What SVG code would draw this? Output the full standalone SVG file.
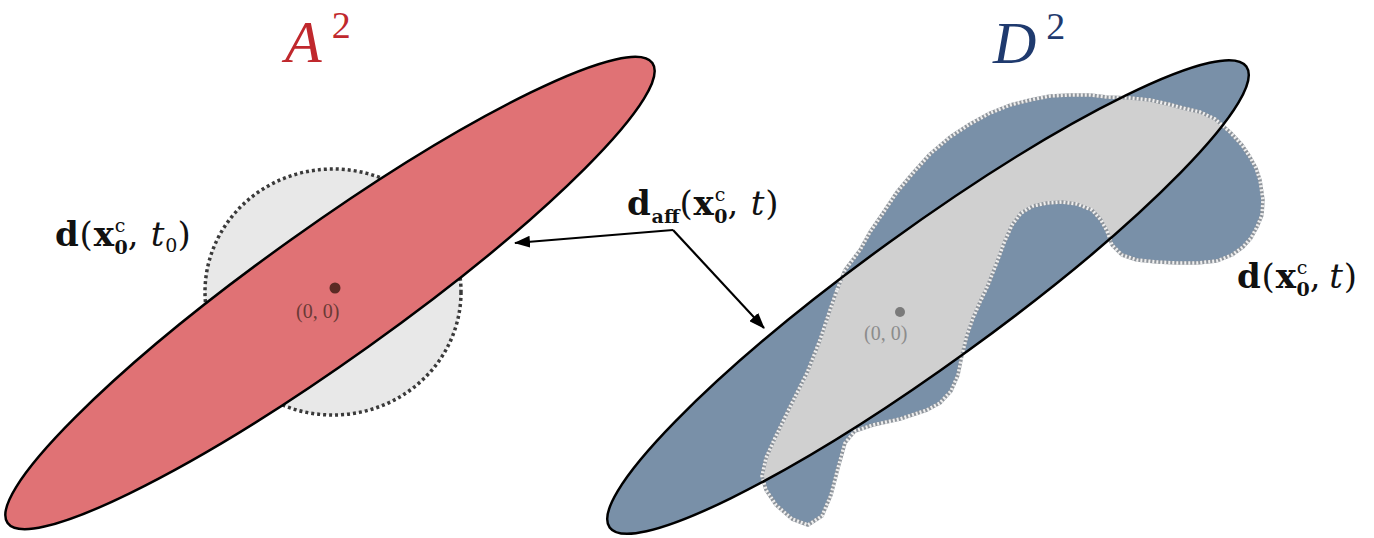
<svg xmlns="http://www.w3.org/2000/svg" width="1374" height="538" viewBox="0 0 1374 538">
<style>
.lbl{font-family:"DejaVu Serif","Liberation Serif",serif;font-size:34px;letter-spacing:0.8px;fill:#111}
.b{font-weight:bold}
.i{font-style:italic}
.s{font-size:19px;letter-spacing:0}
.ttl{font-family:"Liberation Serif","DejaVu Serif",serif;font-style:italic;font-size:60px}
.sup{font-style:normal;font-size:38px}
.orig{font-family:"Liberation Serif","DejaVu Serif",serif;font-size:20px}
.conn{fill:none;stroke:#000;stroke-width:2.2}
</style>
<defs>
<marker id="ah" viewBox="0 0 16 12" refX="15" refY="6" markerWidth="16" markerHeight="12" orient="auto" markerUnits="userSpaceOnUse">
<path d="M0,0 L16,6 L0,12 z" fill="#000"/>
</marker>
<ellipse id="ellR" cx="928" cy="297" rx="393" ry="67" transform="rotate(-35.9 928 297)"/>
<clipPath id="clipR"><use href="#ellR"/></clipPath>
<path id="blob" d="M837,290 L845,270 L860,250 L870,232 L883,213 L897,192 L913,173 L930,154 L950,137 L970,124 L990,113 L1010,105 L1030,100 L1050,96 L1070,95 L1090,95 L1107,97 L1130,98 L1150,100 L1168,104 L1183,108 L1200,112 L1215,119 L1230,132 L1242,145 L1250,157 L1256,168 L1260,180 L1263,200 L1262,215 L1257,227 L1251,238 L1243,247 L1232,255 L1217,261 L1197,263 L1177,263 L1157,262 L1137,260 L1122,255 L1112,245 L1107,231 L1101,220 L1092,210 L1077,204 L1062,202 L1047,203 L1033,206 L1021,213 L1012,225 L1004,243 L997,262 L988,285 L980,302 L973,318 L967,335 L962,355 L958,375 L951,391 L940,403 L927,410 L900,419 L873,425 L855,431 L845,443 L838,468 L831,495 L822,516 L808,525 L792,519 L776,505 L766,490 L762,476 L766,458 L775,438 L790,407 L807,373 L820,340 L830,310 Z"/>
</defs>
<g id="nodeA">
<ellipse cx="333" cy="292" rx="128" ry="123" fill="#e8e8e8" stroke="#3a3a3a" stroke-width="3.5" stroke-dasharray="3 3"/>
<ellipse cx="330" cy="293" rx="396" ry="66" transform="rotate(-35.5 330 293)" fill="#e07275" stroke="#000" stroke-width="2.5"/>
<circle cx="335" cy="288" r="5.5" fill="#5a2a24"/>
<text class="orig" x="296" y="318" fill="#6b3a36">(0, 0)</text>
</g>
<g id="nodeD">
<use href="#ellR" fill="#7990a8"/>
<use href="#blob" fill="#7990a8"/>
<use href="#blob" fill="#d0d0d0" clip-path="url(#clipR)"/>
<use href="#blob" fill="none" stroke="#8e949b" stroke-width="3.5" stroke-linejoin="round"/>
<use href="#blob" fill="none" stroke="#eeeeee" stroke-width="3.5" stroke-dasharray="2 2"/>
<use href="#ellR" fill="none" stroke="#000" stroke-width="2.5"/>
<circle cx="900" cy="312" r="5" fill="#7a7a7a"/>
<text class="orig" x="864" y="340" fill="#8c8c8c">(0, 0)</text>
</g>
<g id="titles">
<text class="ttl" x="285" y="62" fill="#c0282d">A<tspan class="sup" dx="10" dy="-24">2</tspan></text>
<text class="ttl" x="993" y="63" fill="#1f3a6e">D<tspan class="sup" dx="10" dy="-24">2</tspan></text>
</g>
<g id="labels">
<text class="lbl" x="55" y="246"><tspan class="b">d</tspan>(<tspan class="b">x</tspan><tspan class="s" dy="-14">c</tspan><tspan class="s b" dx="-11" dy="22">0</tspan><tspan dy="-8">, </tspan><tspan class="i">t</tspan><tspan class="s" dy="6">0</tspan><tspan dy="-6">)</tspan></text>
<text class="lbl" x="627" y="215"><tspan class="b">d</tspan><tspan class="s b" dy="8">aff</tspan><tspan dy="-8">(</tspan><tspan class="b">x</tspan><tspan class="s" dy="-14">c</tspan><tspan class="s b" dx="-11" dy="22">0</tspan><tspan dy="-8">, </tspan><tspan class="i">t</tspan>)</text>
<text class="lbl" x="1237" y="288"><tspan class="b">d</tspan>(<tspan class="b">x</tspan><tspan class="s" dy="-14">c</tspan><tspan class="s b" dx="-11" dy="22">0</tspan><tspan dy="-8">,</tspan><tspan class="i" dx="8">t</tspan>)</text>
</g>
<g id="connectors">
<polyline class="conn" points="673,230 515,243" marker-end="url(#ah)"/>
<polyline class="conn" points="673,230 764,328" marker-end="url(#ah)"/>
</g>
</svg>
